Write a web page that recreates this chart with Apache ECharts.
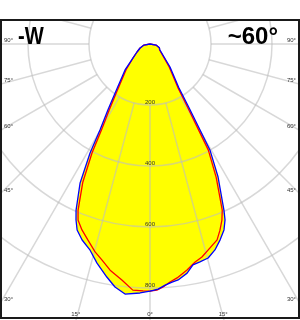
<!DOCTYPE html>
<html><head><meta charset="utf-8">
<script src="https://cdn.jsdelivr.net/npm/echarts@6/dist/echarts.min.js"></script>
<style>html,body{margin:0;padding:0;background:#fff}#c{width:300px;height:320px}</style>
</head><body><div id="c"></div>
<script>
// Data: intensity (cd/klm) vs angle from nadir, left half and right half
const blueLeftAng  = [90, 80, 75, 68, 58.4, 50.5, 43.9, 35.5, 32.5, 30.2, 28.8, 26.7, 24.0, 22.8, 21.4, 19.1, 16.2, 13.6, 10.5, 8.2, 5.7, 2.3, 0];
const blueLeftVal  = [0, 20, 26, 35, 50, 72, 118, 197, 257, 326, 408, 510, 596, 626, 655, 680, 704, 739, 777, 805, 824, 817, 810];
const blueRightAng = [1.9, 3.6, 5.3, 6.8, 9.2, 11.0, 12.9, 15.2, 17.5, 19.7, 21.7, 23.1, 24.0, 27.1, 29.5, 31.5, 33.5, 41, 59, 68, 75, 80, 90];
const blueRightVal = [804, 792, 784, 779, 761, 738, 733, 727, 708, 682, 656, 627, 596, 490, 399, 245, 170, 100, 38, 33, 26, 20, 0];

const redLeftAng  = [90, 80, 75, 68, 58.4, 50.5, 43, 34.6, 31.7, 29.4, 28.0, 25.9, 23.4, 22.2, 20.1, 17.6, 14.8, 12.5, 10.0, 6.8, 4.0, 1.6, 0];
const redLeftVal  = [0, 20, 26, 35, 50, 72, 115, 195, 255, 325, 405, 505, 594, 624, 649, 674, 705, 726, 753, 779, 809, 810, 810];
const redRightAng = [1.6, 3.1, 4.8, 6.6, 9.3, 11.7, 13.7, 16.4, 18.9, 20.6, 22.2, 23.5, 26.4, 28.8, 30.7, 32.7, 40, 58, 68, 75, 80, 90];
const redRightVal = [807, 798, 783, 772, 751, 730, 719, 697, 679, 652, 624, 594, 488, 397, 243, 168, 98, 37, 33, 26, 20, 0];

const angleTickLabels = [90, 75, 60, 45, 30, 15, 0];
const radiusMax = 800, radiusStep = 200;
const titleLeft = '-W';
const titleRight = '~60°';

// Layout
const CX = 150, CY = 44, R = 244;
const PX_PER_UNIT = R / radiusMax;
const FRAME = {x: 1, y: 20, w: 298, h: 298};

function toPolar(angL, valL, angR, valR) {
  const out = [];
  for (let i = 0; i < angL.length; i++) out.push([valL[i], angL[i]]);
  for (let i = 0; i < angR.length; i++) out.push([valR[i], 360 - angR[i]]);
  return out;
}
const blueData = toPolar(blueLeftAng, blueLeftVal, blueRightAng, blueRightVal);
const redData = toPolar(redLeftAng, redLeftVal, redRightAng, redRightVal);

const gridColor = 'rgba(190,190,190,0.6)';
const FB = FRAME.y + FRAME.h + 1;

const graphics = [
  {type: 'rect', shape: {x: 0, y: 0, width: 300, height: 19}, style: {fill: '#fff'}, z: 15, silent: true},
  {type: 'rect', shape: {x: FRAME.x, y: FRAME.y, width: FRAME.w, height: FRAME.h}, style: {fill: 'none', stroke: '#1a1a1a', lineWidth: 2}, z: 16, silent: true},
  {type: 'text', x: 18, y: 37, scaleX: 0.84, style: {text: titleLeft, font: 'bold 24px "Liberation Sans", Arial, sans-serif', fill: '#000', textAlign: 'left', textVerticalAlign: 'middle'}, z: 20},
  {type: 'text', x: 278, y: 37, style: {text: titleRight, font: 'bold 24px "Liberation Sans", Arial, sans-serif', fill: '#000', textAlign: 'right', textVerticalAlign: 'middle'}, z: 20}
];
const lblFont = '6px "Liberation Sans", Arial, sans-serif';
angleTickLabels.forEach(function (a) {
  const sides = a === 0 ? [0] : [-1, 1];
  sides.forEach(function (s) {
    const rad = a * Math.PI / 180;
    let x, y, align;
    if (a !== 0) {
      const ySide = CY + CX / Math.tan(rad);
      if (ySide < FB - 8) {
        y = ySide - 4;
        x = s < 0 ? 4 : 296;
        align = s < 0 ? 'left' : 'right';
      } else {
        y = 314;
        x = CX + s * (FB - CY) * Math.tan(rad) - 0.5;
        align = 'center';
      }
    } else {
      x = CX; y = 314; align = 'center';
    }
    graphics.push({type: 'text', x: x, y: y, style: {text: a + '°', font: lblFont, fill: '#333', textAlign: align, textVerticalAlign: 'middle'}, z: 20});
  });
});

const dataMax = 1000;
const chart = echarts.init(document.getElementById('c'), null, {renderer: 'canvas'});
chart.setOption({
  animation: false,
  backgroundColor: '#fff',
  polar: [
    {center: [CX, CY], radius: R},
    {center: [CX, CY], radius: [radiusStep * PX_PER_UNIT, 700]},
    {center: [CX, CY], radius: dataMax * PX_PER_UNIT}
  ],
  angleAxis: [
    {polarIndex: 0, type: 'value', min: 0, max: 360, startAngle: 270, clockwise: true, show: false},
    {polarIndex: 1, type: 'value', min: 0, max: 360, interval: 15, startAngle: 270, clockwise: true, z: 2,
      axisLine: {show: false}, axisTick: {show: false}, axisLabel: {show: false},
      splitLine: {show: true, lineStyle: {color: gridColor, width: 1.5}}},
    {polarIndex: 2, type: 'value', min: 0, max: 360, startAngle: 270, clockwise: true, show: false}
  ],
  radiusAxis: [
    {polarIndex: 0, type: 'value', min: 0, max: radiusMax, interval: radiusStep, z: 2,
      axisLine: {show: false}, axisTick: {show: false},
      axisLabel: {show: true, showMinLabel: false, margin: 0, align: 'center', verticalAlign: 'bottom', fontSize: 6, color: '#333', fontFamily: 'Liberation Sans, Arial, sans-serif'},
      splitLine: {show: true, lineStyle: {color: gridColor, width: 1.5}}},
    {polarIndex: 1, type: 'value', min: 0, max: 1, show: false},
    {polarIndex: 2, type: 'value', min: 0, max: dataMax, show: false}
  ],
  series: [
    {type: 'line', coordinateSystem: 'polar', polarIndex: 2, data: blueData, showSymbol: false, clip: false, z: 1, silent: true,
      lineStyle: {width: 0, opacity: 0}, areaStyle: {color: '#ffff00', opacity: 1}},
    {type: 'line', coordinateSystem: 'polar', polarIndex: 2, data: redData, showSymbol: false, clip: false, z: 1, silent: true,
      lineStyle: {width: 0, opacity: 0}, areaStyle: {color: '#ffff00', opacity: 1}},
    {type: 'line', coordinateSystem: 'polar', polarIndex: 2, data: redData, showSymbol: false, clip: false, z: 3, silent: true,
      lineStyle: {color: '#ff0000', width: 1.3}},
    {type: 'line', coordinateSystem: 'polar', polarIndex: 2, data: blueData, showSymbol: false, clip: false, z: 4, silent: true,
      lineStyle: {color: '#0000ff', width: 1.3}}
  ],
  graphic: graphics
});
</script></body></html>
